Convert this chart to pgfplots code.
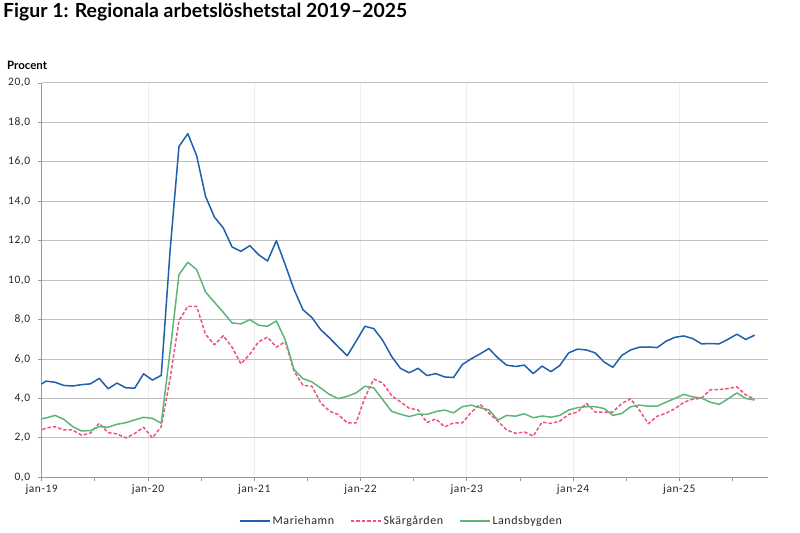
\documentclass[border=0pt]{standalone}
\usepackage{fontspec}
\setmainfont{Carlito}
\newfontfamily\titlefont{Lato}
\newfontfamily\spacedfont{Carlito}[LetterSpace=5]
\usepackage{pgfplots}
\pgfplotsset{compat=1.18}
\usepackage{pgfplotstable}

\definecolor{mhblue}{RGB}{31,95,172}
\definecolor{skpink}{RGB}{240,82,124}
\definecolor{lbgreen}{RGB}{92,182,122}
\definecolor{gridgray}{RGB}{191,191,191}

% m = month index (0 = jan 2019), points sit mid-month
\pgfplotstableread{
m   mh     sk    lb
-1  4.60   2.30  2.93
0   4.88   2.50  3.01
1   4.82   2.57  3.14
2   4.66   2.40  2.94
3   4.63   2.40  2.57
4   4.70   2.13  2.35
5   4.74   2.24  2.37
6   5.02   2.74  2.57
7   4.49   2.27  2.54
8   4.78   2.20  2.69
9   4.54   2.00  2.77
10  4.52   2.22  2.91
11  5.25   2.54  3.04
12  4.93   2.00  2.99
13  5.17   2.57  2.74
14  11.50  5.00  6.40
15  16.78  7.95  10.28
16  17.43  8.67  10.91
17  16.31  8.67  10.53
18  14.25  7.25  9.40
19  13.20  6.72  8.88
20  12.65  7.18  8.37
21  11.68  6.60  7.83
22  11.46  5.75  7.78
23  11.75  6.25  8.00
24  11.29  6.88  7.71
25  10.97  7.11  7.66
26  12.00  6.60  7.93
27  10.78  6.88  6.98
28  9.52   5.38  5.46
29  8.50   4.67  5.01
30  8.11   4.62  4.84
31  7.49   3.78  4.53
32  7.07   3.35  4.20
33  6.61   3.18  3.99
34  6.17   2.76  4.11
35  6.90   2.76  4.28
36  7.66   4.05  4.62
37  7.54   4.98  4.53
38  6.95   4.79  3.94
39  6.14   4.15  3.35
40  5.53   3.83  3.20
41  5.30   3.50  3.08
42  5.53   3.42  3.20
43  5.16   2.78  3.19
44  5.26   2.96  3.33
45  5.09   2.56  3.41
46  5.06   2.76  3.27
47  5.72   2.76  3.58
48  6.01   3.30  3.66
49  6.26   3.70  3.53
50  6.53   3.25  3.42
51  6.06   2.85  2.90
52  5.69   2.40  3.14
53  5.62   2.23  3.10
54  5.69   2.30  3.22
55  5.26   2.09  3.02
56  5.64   2.80  3.11
57  5.36   2.73  3.05
58  5.67   2.85  3.14
59  6.31   3.19  3.41
60  6.50   3.31  3.53
61  6.46   3.75  3.58
62  6.31   3.31  3.58
63  5.85   3.31  3.49
64  5.58   3.31  3.14
65  6.18   3.75  3.24
66  6.46   3.98  3.58
67  6.60   3.40  3.66
68  6.61   2.72  3.61
69  6.58   3.10  3.61
70  6.90   3.25  3.81
71  7.10   3.48  4.00
72  7.17   3.80  4.21
73  7.04   3.96  4.08
74  6.77   4.01  4.02
75  6.78   4.44  3.81
76  6.77   4.45  3.70
77  7.00   4.50  3.98
78  7.26   4.59  4.28
79  6.99   4.18  4.00
80  7.21   3.96  3.92
}\arbdata

\begin{document}
\begin{tikzpicture}
\path[use as bounding box] (0,0) rectangle (800bp,533bp);
\node[anchor=base west, inner sep=0, font=\titlefont\bfseries\fontsize{19.5}{22}\selectfont]
  at (3bp,515.7bp) {Figur 1: Regionala arbetslöshetstal 2019–2025};
\node[anchor=base west, inner sep=0, font=\titlefont\bfseries\fontsize{11.5}{13}\selectfont]
  at (7bp,463bp) {Procent};
\begin{axis}[
  at={(41.7bp,55.7bp)}, anchor=south west,
  scale only axis, width=726.2bp, height=394.3bp,
  xmin=0, xmax=82, ymin=0, ymax=20,
  axis x line=bottom, axis y line=left,
  axis line style={-, draw=black!40, line width=0.8bp},
  xtick={0,12,...,72},
  xticklabels={jan-19,jan-20,jan-21,jan-22,jan-23,jan-24,jan-25},
  minor xtick={6,18,...,78},
  ytick={0,2,...,20},
  tick align=outside, major tick length=4bp, minor tick length=4bp,
  every tick/.style={draw=black!40, line width=0.8bp},
  ymajorgrids, xmajorgrids,
  y grid style={gridgray, line width=1bp},
  x grid style={black!7, line width=0.8bp},
  yticklabel style={/pgf/number format/fixed, /pgf/number format/fixed zerofill,
    /pgf/number format/precision=1, /pgf/number format/use comma, xshift=-4bp},
  /pgf/number format/assume math mode=true,
  tick label style={font=\spacedfont\fontsize{11.5}{13}\selectfont, color=black!85},
  legend style={at={(0.4956,-0.111)}, anchor=center, draw=none, fill=none,
    legend columns=3, font=\spacedfont\fontsize{12}{14}\selectfont, text=black!85,
    /tikz/every even column/.append style={column sep=14bp}},
  legend image code/.code={\draw[#1] (0bp,0bp) -- (30bp,0bp);},
]
\addplot[mhblue, line width=1.5bp, line join=round] table[x expr=\thisrow{m}+0.5, y=mh]{\arbdata};
\addlegendentry{Mariehamn}
\addplot[skpink, line width=1.5bp, line join=round, dash pattern=on 3.5bp off 2bp] table[x expr=\thisrow{m}+0.5, y=sk]{\arbdata};
\addlegendentry{Skärgården}
\addplot[lbgreen, line width=1.5bp, line join=round] table[x expr=\thisrow{m}+0.5, y=lb]{\arbdata};
\addlegendentry{Landsbygden}
\end{axis}
\end{tikzpicture}
\end{document}
